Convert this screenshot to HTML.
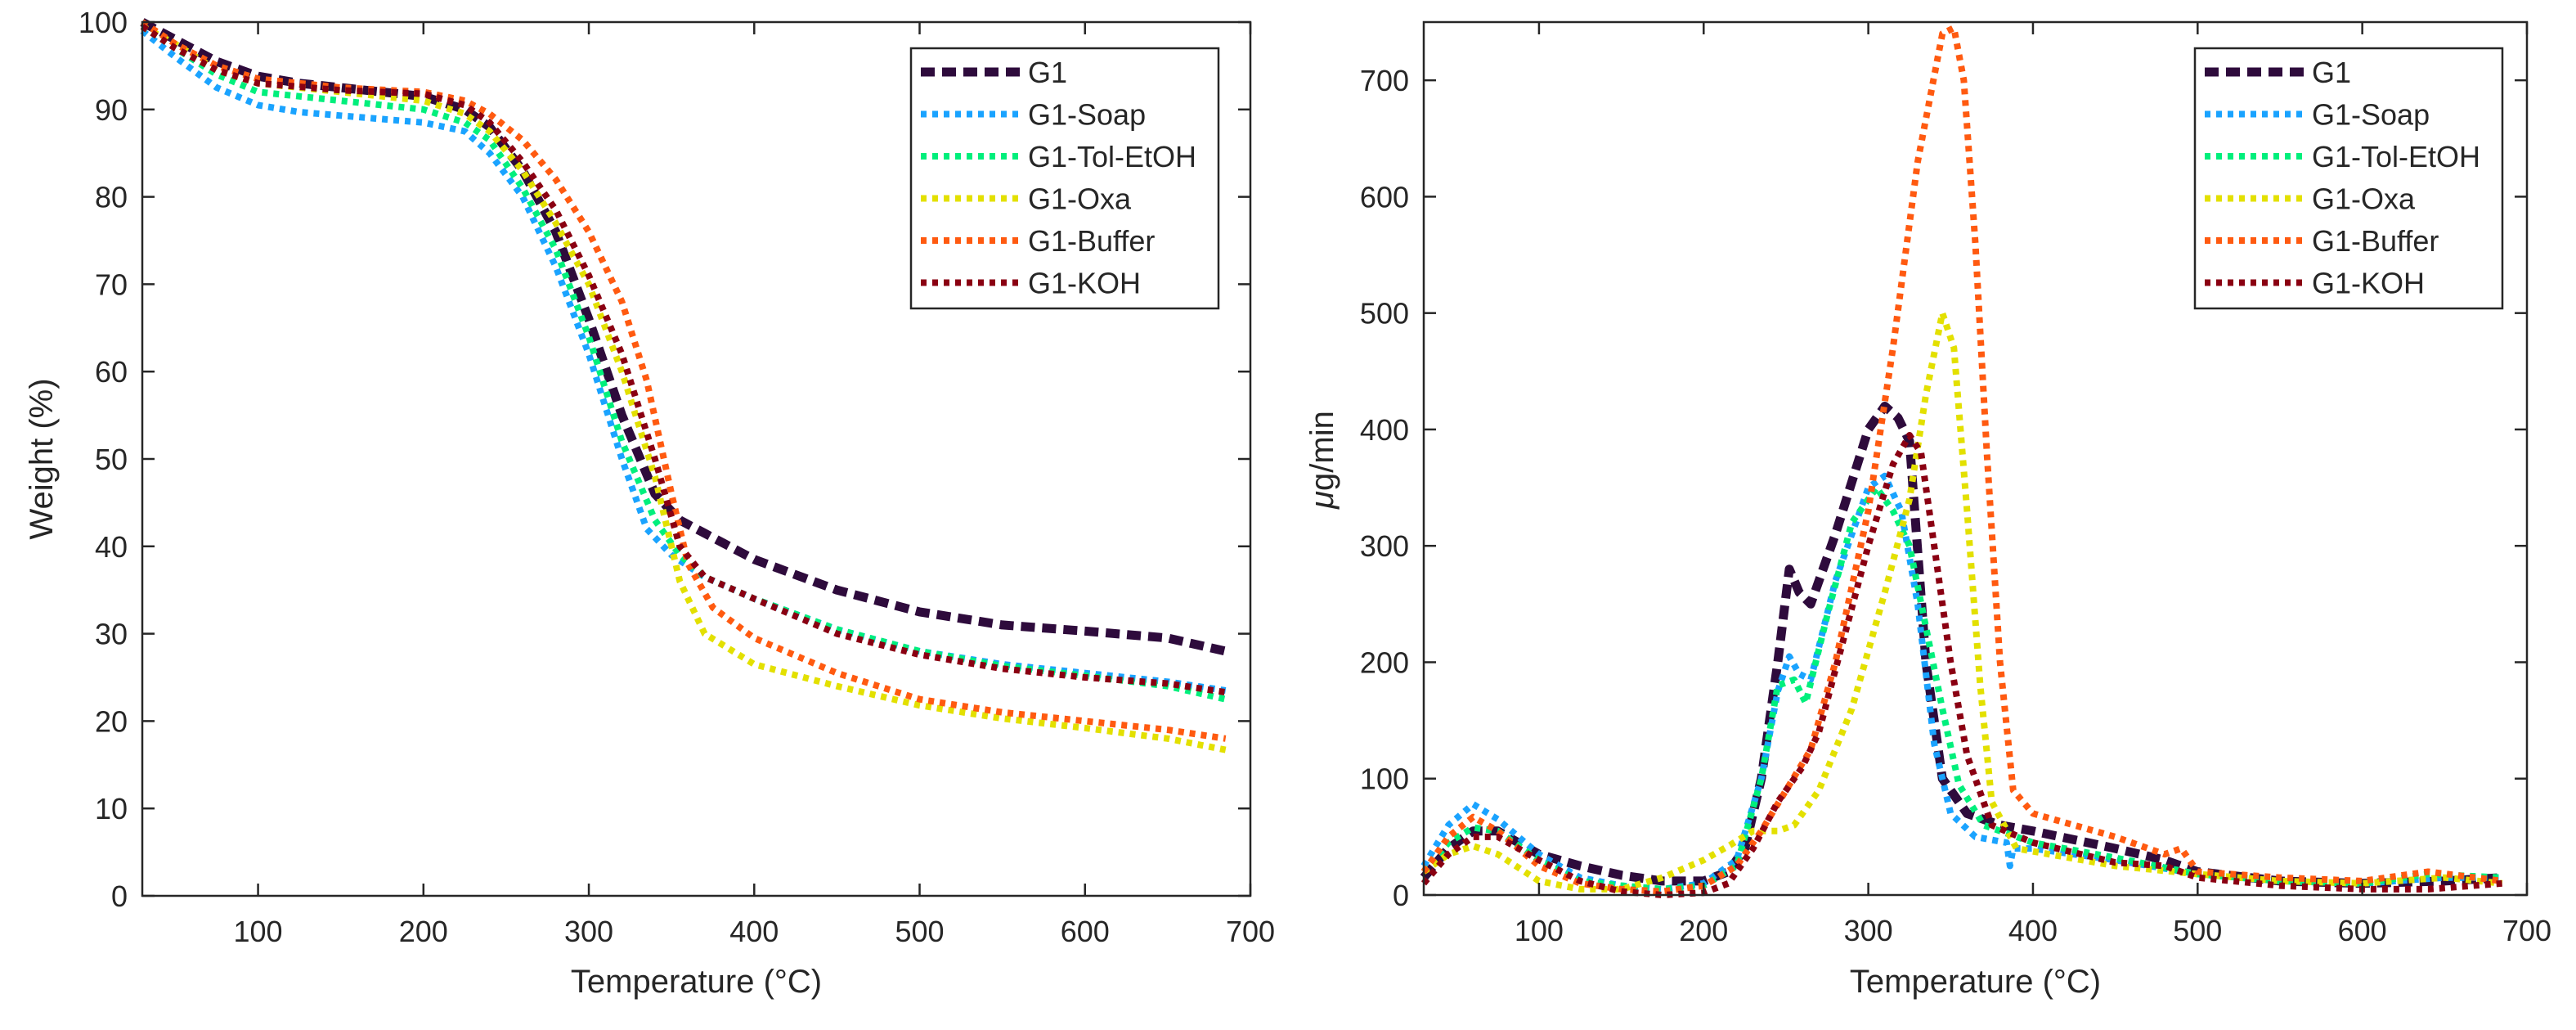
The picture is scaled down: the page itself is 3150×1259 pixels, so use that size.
<!DOCTYPE html>
<html><head><meta charset="utf-8"><style>
html,body{margin:0;padding:0;background:#fff;}
svg{display:block;font-family:"Liberation Sans",Arial,sans-serif;}
</style></head><body>
<svg id="chart" width="3150" height="1259" viewBox="0 0 3150 1259" xmlns="http://www.w3.org/2000/svg">
<rect width="3150" height="1259" fill="#fff"/>
<g id="left"></g>
<g id="right"></g>
</svg>
<script>
const seriesNames = ["G1","G1-Soap","G1-Tol-EtOH","G1-Oxa","G1-Buffer","G1-KOH"];
const seriesColors = ["#2e0b3c","#1aa3ff","#00ef7c","#e3e000","#ff5a10","#8a0012"];
const xTicks = [100,200,300,400,500,600,700];
const leftYTicks = [0,10,20,30,40,50,60,70,80,90,100];
const rightYTicks = [0,100,200,300,400,500,600,700];

const tgaG1 = [[30,100],[50,98],[75,95.5],[100,93.8],[125,93],[150,92.5],[200,91.5],[225,90],[240,88],[260,83],[280,76],[300,66],[320,55],[340,46],[355,43],[370,41.5],[400,38.5],[450,35],[500,32.5],[550,31],[600,30.3],[650,29.5],[685,28]];
const tgaSoap = [[30,99],[50,96],[75,92.5],[100,90.5],[125,89.7],[150,89.3],[200,88.5],[225,87.5],[240,85],[260,80],[280,72],[300,62],[320,50],[335,42],[350,39],[370,36.5],[400,34],[450,30.5],[500,28],[550,26.5],[600,25.5],[650,24.5],[685,23.5]];
const tgaTol = [[30,99.5],[50,97],[75,94],[100,92],[150,91],[200,90],[225,88.5],[240,86.5],[260,81],[280,74],[300,64],[320,52],[340,43],[355,39],[370,36.5],[400,34],[450,30.5],[500,28],[550,26.3],[600,25.2],[650,24],[685,22.5]];
const tgaOxa = [[30,99.5],[50,97.5],[75,94.5],[100,93],[150,92],[200,91],[225,89.5],[240,87.5],[260,83],[280,77],[300,70],[320,60],[340,48],[355,36],[370,30],[400,26.5],[450,24],[500,21.8],[550,20.3],[600,19.2],[650,18],[685,16.7]];
const tgaBuffer = [[30,100],[50,97.5],[75,95],[100,93.5],[150,92.5],[200,92],[225,91],[240,89.5],[260,86.5],[280,82],[300,76],[320,68],[335,59],[350,46],[360,38],[375,33],[400,29.5],[450,25.5],[500,22.5],[550,21],[600,20],[650,19],[685,18]];
const tgaKOH = [[30,99.5],[50,97],[75,94.5],[100,93],[150,92.2],[200,91.8],[225,90.5],[240,88.5],[260,84],[280,78.5],[300,71],[320,62],[340,50],[355,40],[370,36.5],[400,34],[450,30],[500,27.6],[550,26],[600,25],[650,24.3],[685,23.3]];

const dtgG1 = [[30,15],[45,40],[60,55],[75,55],[100,35],[125,25],[150,17],[175,12],[200,12],[215,20],[225,40],[235,100],[245,200],[252,280],[258,260],[265,250],[280,310],[300,400],[310,420],[318,410],[325,390],[335,200],[345,100],[360,70],[380,60],[400,55],[450,40],[480,30],[500,20],[550,12],[600,10],[650,12],[685,15]];
const dtgSoap = [[30,25],[45,60],[60,78],[75,65],[100,35],[125,15],[150,8],[175,5],[200,10],[220,30],[235,100],[245,175],[252,205],[258,190],[265,185],[280,270],[300,350],[310,360],[320,330],[330,250],[340,130],[350,70],[365,50],[384,45],[386,25],[388,40],[400,40],[450,30],[500,18],[550,12],[600,10],[650,15],[685,15]];
const dtgTol = [[30,20],[45,45],[60,58],[75,55],[100,30],[125,12],[150,8],[175,5],[200,8],[220,25],[235,100],[245,180],[255,185],[262,165],[275,240],[290,320],[305,350],[315,330],[325,300],[335,230],[345,160],[355,95],[370,60],[400,45],[450,32],[500,18],[550,12],[600,10],[640,18],[685,15]];
const dtgOxa = [[30,20],[45,35],[60,42],[75,35],[100,12],[125,5],[150,5],[175,15],[200,30],[215,42],[230,55],[245,55],[255,60],[270,90],[290,160],[310,260],[325,340],[335,430],[345,500],[352,470],[360,330],[368,180],[375,80],[390,40],[450,25],[500,18],[550,12],[600,10],[650,15],[685,10]];
const dtgBuffer = [[30,20],[45,50],[60,67],[75,55],[100,25],[125,10],[150,5],[175,3],[200,8],[220,25],[235,55],[250,90],[265,125],[280,200],[300,330],[315,470],[330,630],[345,740],[352,745],[358,700],[365,560],[372,380],[380,200],[388,90],[400,70],[450,50],[480,35],[490,40],[500,20],[550,15],[600,12],[640,20],[685,12]];
const dtgKOH = [[30,10],[45,35],[60,50],[75,50],[100,30],[125,12],[150,3],[175,0],[200,2],[215,10],[230,40],[245,80],[260,110],[270,140],[285,220],[300,300],[315,370],[325,395],[332,380],[340,300],[350,200],[360,120],[375,60],[400,45],[450,28],[480,25],[500,15],[550,8],[600,5],[640,5],[685,10]];

const tgaData = [tgaG1,tgaSoap,tgaTol,tgaOxa,tgaBuffer,tgaKOH];
const dtgData = [dtgG1,dtgSoap,dtgTol,dtgOxa,dtgBuffer,dtgKOH];

const NS = "http://www.w3.org/2000/svg";
function mk(parent, tag, attrs, text){
  const e = document.createElementNS(NS, tag);
  for (const k in attrs) e.setAttribute(k, attrs[k]);
  if (text !== undefined) e.textContent = text;
  parent.appendChild(e);
  return e;
}
function styleFor(i){
  if (i === 0) return {w:11, d:"17 9"};
  return {w:8, d:"7 7"};
}
function drawChart(g, o){
  const sx = v => o.x0 + (v - o.xmin) / (o.xmax - o.xmin) * (o.x1 - o.x0);
  const sy = v => o.y1 - (v - o.ymin) / (o.ymax - o.ymin) * (o.y1 - o.y0);
  // series
  o.data.forEach((pts, i) => {
    const st = styleFor(i);
    const d = pts.map((p, j) => (j ? "L" : "M") + sx(p[0]).toFixed(1) + "," + sy(p[1]).toFixed(1)).join(" ");
    const p = mk(g, "path", {d:d, fill:"none", stroke:seriesColors[i], "stroke-width":st.w, "stroke-dasharray":st.d, "stroke-linejoin":"round"});
    
    
  });
  // frame
  const fr = mk(g, "rect", {x:o.x0, y:o.y0, width:o.x1-o.x0, height:o.y1-o.y0, fill:"none", stroke:"#262626", "stroke-width":2.5});
  
  
  // x ticks
  xTicks.forEach(t => {
    const x = sx(t);
    mk(g, "line", {x1:x, y1:o.y1, x2:x, y2:o.y1-15, stroke:"#262626", "stroke-width":2.5});
    mk(g, "line", {x1:x, y1:o.y0, x2:x, y2:o.y0+15, stroke:"#262626", "stroke-width":2.5});
    const tl = mk(g, "text", {x:x, y:o.y1+56, "text-anchor":"middle", "font-size":36, fill:"#262626"}, String(t));
    
    
  });
  o.yTicks.forEach(t => {
    const y = sy(t);
    mk(g, "line", {x1:o.x0, y1:y, x2:o.x0+15, y2:y, stroke:"#262626", "stroke-width":2.5});
    mk(g, "line", {x1:o.x1, y1:y, x2:o.x1-15, y2:y, stroke:"#262626", "stroke-width":2.5});
    const tl = mk(g, "text", {x:o.x0-18, y:y+13, "text-anchor":"end", "font-size":36, fill:"#262626"}, String(t));
    
    
  });
  const xt = mk(g, "text", {x:(o.x0+o.x1)/2, y:1213, "text-anchor":"middle", "font-size":40, fill:"#262626"}, "Temperature (°C)");
  
  
  // legend
  const lg = mk(g, "g", {});
  
  
  mk(lg, "rect", {x:o.lx, y:59, width:376, height:318, fill:"#fff", stroke:"#262626", "stroke-width":2.5});
  seriesNames.forEach((n, i) => {
    const y = 88 + i * 51.5;
    const st = styleFor(i);
    const ent = mk(lg, "g", {});
    
    
    mk(ent, "line", {x1:o.lx+12, y1:y, x2:o.lx+133, y2:y, stroke:seriesColors[i], "stroke-width":st.w, "stroke-dasharray":st.d});
    mk(ent, "text", {x:o.lx+143, y:y+13, "font-size":36, fill:"#262626"}, n);
  });
}
drawChart(document.getElementById("left"), {x0:174, x1:1529, y0:27, y1:1095, xmin:30, xmax:700, ymin:0, ymax:100, data:tgaData, yTicks:leftYTicks, lx:1114});
drawChart(document.getElementById("right"), {x0:1741, x1:3090, y0:27, y1:1094, xmin:30, xmax:700, ymin:0, ymax:750, data:dtgData, yTicks:rightYTicks, lx:2684});

const yl = mk(document.getElementById("left"), "text", {x:0, y:0, transform:"translate(64,561) rotate(-90)", "text-anchor":"middle", "font-size":40, fill:"#262626"}, "Weight (%)");


const yr = mk(document.getElementById("right"), "text", {x:0, y:0, transform:"translate(1630,562) rotate(-90)", "text-anchor":"middle", "font-size":40, fill:"#262626"});


const mu = mk(yr, "tspan", {"font-style":"italic"}, "μ");
mk(yr, "tspan", {}, "g/min");
</script>
</body></html>
